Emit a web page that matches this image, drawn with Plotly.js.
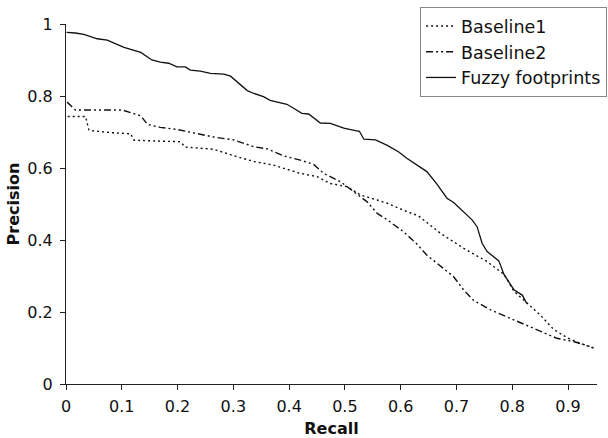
<!DOCTYPE html>
<html>
<head>
<meta charset="utf-8">
<script src="https://cdn.plot.ly/plotly-3.0.1.min.js"></script>
<style>html,body{margin:0;padding:0;background:#fff;}#chart{width:608px;height:438px;}</style>
</head>
<body>
<div id="chart"></div>
<script>
// Baseline1 (dotted)
const b1Recall = [0.003, 0.035, 0.041, 0.044, 0.083, 0.116, 0.122, 0.205, 0.214, 0.265, 0.301, 0.337, 0.372, 0.39, 0.42, 0.45, 0.474, 0.504, 0.528, 0.558, 0.576, 0.611, 0.632, 0.671, 0.713, 0.755, 0.785, 0.803, 0.827, 0.85, 0.874, 0.898, 0.922, 0.946];
const b1Precision = [0.743, 0.743, 0.706, 0.704, 0.698, 0.695, 0.677, 0.673, 0.658, 0.652, 0.634, 0.618, 0.608, 0.599, 0.585, 0.576, 0.557, 0.548, 0.525, 0.511, 0.502, 0.479, 0.467, 0.419, 0.377, 0.34, 0.305, 0.258, 0.224, 0.192, 0.152, 0.129, 0.113, 0.099];

// Baseline2 (dash-dot-dot)
const b2Recall = [0.002, 0.017, 0.101, 0.134, 0.146, 0.169, 0.199, 0.229, 0.265, 0.301, 0.337, 0.361, 0.39, 0.42, 0.444, 0.462, 0.492, 0.516, 0.54, 0.558, 0.576, 0.605, 0.629, 0.647, 0.671, 0.695, 0.713, 0.731, 0.761, 0.791, 0.821, 0.85, 0.88, 0.91, 0.934, 0.946];
const b2Precision = [0.783, 0.761, 0.761, 0.745, 0.721, 0.713, 0.707, 0.698, 0.686, 0.678, 0.659, 0.653, 0.634, 0.622, 0.61, 0.585, 0.562, 0.534, 0.506, 0.474, 0.456, 0.423, 0.389, 0.358, 0.329, 0.298, 0.261, 0.232, 0.206, 0.186, 0.166, 0.145, 0.127, 0.118, 0.108, 0.101];

// Fuzzy footprints (solid)
const ffRecall = [0.001, 0.017, 0.032, 0.056, 0.074, 0.104, 0.134, 0.154, 0.169, 0.184, 0.199, 0.214, 0.223, 0.241, 0.259, 0.283, 0.295, 0.325, 0.337, 0.354, 0.366, 0.378, 0.396, 0.408, 0.423, 0.435, 0.456, 0.474, 0.498, 0.519, 0.526, 0.534, 0.555, 0.576, 0.596, 0.611, 0.629, 0.647, 0.665, 0.683, 0.695, 0.713, 0.728, 0.737, 0.746, 0.755, 0.776, 0.785, 0.803, 0.818, 0.826];
const ffPrecision = [0.977, 0.975, 0.971, 0.959, 0.955, 0.935, 0.921, 0.9, 0.894, 0.891, 0.881, 0.881, 0.872, 0.869, 0.863, 0.861, 0.855, 0.815, 0.807, 0.798, 0.788, 0.783, 0.777, 0.766, 0.752, 0.75, 0.725, 0.724, 0.711, 0.704, 0.702, 0.68, 0.678, 0.663, 0.645, 0.627, 0.609, 0.59, 0.555, 0.516, 0.504, 0.479, 0.456, 0.437, 0.391, 0.368, 0.342, 0.305, 0.262, 0.247, 0.224];

const seriesNames = ["Baseline1", "Baseline2", "Fuzzy footprints"];
const xTicks = [0, 0.1, 0.2, 0.3, 0.4, 0.5, 0.6, 0.7, 0.8, 0.9];
const yTicks = [0, 0.2, 0.4, 0.6, 0.8, 1];

const FONT = "DejaVu Sans, Verdana, sans-serif";

const traces = [
  {x: b1Recall, y: b1Precision, name: seriesNames[0], mode: "lines",
   line: {color: "#111", width: 1.4, dash: "2px,3px"}},
  {x: b2Recall, y: b2Precision, name: seriesNames[1], mode: "lines",
   line: {color: "#111", width: 1.4, dash: "7px,3px,2px,3px,2px,3px"}},
  {x: ffRecall, y: ffPrecision, name: seriesNames[2], mode: "lines",
   line: {color: "#111", width: 1.3}}
];

const layout = {
  width: 608, height: 438,
  margin: {l: 65.5, r: 11, t: 24, b: 54, autoexpand: false},
  paper_bgcolor: "#fff", plot_bgcolor: "#fff",
  font: {family: FONT, color: "#111", size: 16},
  showlegend: true,
  legend: {
    x: 1.019, y: 1.047, xanchor: "right", yanchor: "top",
    bgcolor: "#fff", bordercolor: "#888", borderwidth: 1,
    font: {family: FONT, size: 17.5, color: "#111"}
  },
  xaxis: {
    range: [0, 0.952], tickvals: xTicks, ticktext: xTicks.map(String),
    showgrid: false, zeroline: false, showline: true, linecolor: "#222", linewidth: 1,
    ticks: "outside", ticklen: 5, tickcolor: "#222", ticklabelstandoff: 3,
    tickfont: {family: FONT, size: 16, color: "#111"},
    title: {text: "Recall", font: {family: FONT, size: 16, color: "#111", weight: "bold"}, standoff: 8}
  },
  yaxis: {
    range: [0, 1], tickvals: yTicks, ticktext: yTicks.map(String),
    showgrid: false, zeroline: false, showline: true, linecolor: "#222", linewidth: 1,
    ticks: "outside", ticklen: 5, tickcolor: "#222", ticklabelstandoff: 4,
    tickfont: {family: FONT, size: 16, color: "#111"},
    title: {text: "Precision", font: {family: FONT, size: 16, color: "#111", weight: "bold"}, standoff: 3}
  }
};

Plotly.newPlot("chart", traces, layout, {displayModeBar: false, staticPlot: true});
</script>
</body>
</html>
